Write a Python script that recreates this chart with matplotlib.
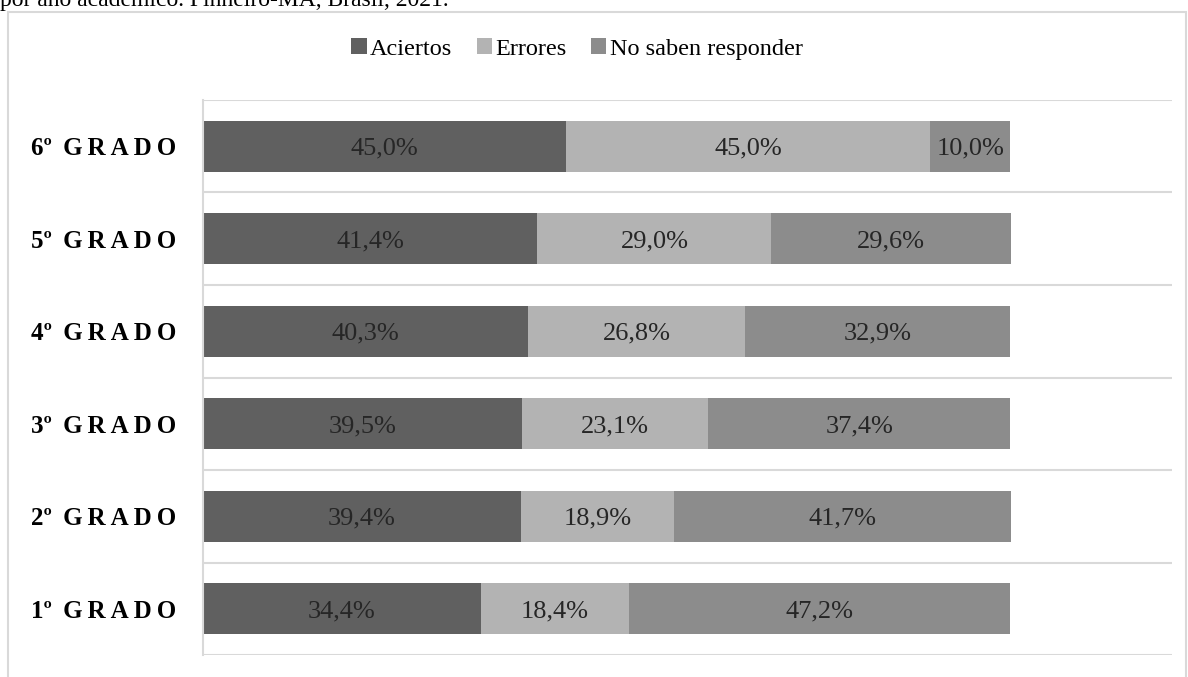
import matplotlib
matplotlib.use("Agg")
import matplotlib.pyplot as plt
from matplotlib.patches import Rectangle
import numpy as np

categories = ["1º GRADO", "2º GRADO", "3º GRADO", "4º GRADO", "5º GRADO", "6º GRADO"]
aciertos = [34.4, 39.4, 39.5, 40.3, 41.4, 45.0]
errores = [18.4, 18.9, 23.1, 26.8, 29.0, 45.0]
no_saben = [47.2, 41.7, 37.4, 32.9, 29.6, 10.0]
series_names = ["Aciertos", "Errores", "No saben responder"]
colors = ["#606060", "#b3b3b3", "#8c8c8c"]
caption = "por año académico. Pinheiro-MA, Brasil, 2021."

plt.rcParams['font.family'] = ['Liberation Serif', 'DejaVu Serif']

W, H = 1188, 677
fig = plt.figure(figsize=(W / 100, H / 100), dpi=100)

# outer chart frame
fig.patches.append(Rectangle((8 / W, -0.05), (1186 - 8) / W, 1 - 12 / H + 0.05,
                             transform=fig.transFigure, fill=False,
                             edgecolor="#d9d9d9", linewidth=1.5))
fig.text(0.0, 1 - 6 / H, caption, fontsize=17, va="baseline", ha="left", color="black")

ax = fig.add_axes([203 / W, 1 - 655 / H, (1172 - 203) / W, (655 - 100) / H])

y = np.arange(len(categories))
left = np.zeros(len(categories))
for vals, name, c in zip([aciertos, errores, no_saben], series_names, colors):
    ax.barh(y, vals, left=left, height=0.55, color=c, label=name)
    for yi, l, v in zip(y, left, vals):
        ax.text(l + v / 2, yi, f"{v:.1f}%".replace(".", ","), ha="center",
                va="center_baseline", fontsize=19, color="#262626")
    left = left + np.array(vals)

ax.set_xlim(0, 120)
ax.set_ylim(-0.5, len(categories) - 0.5)
ax.set_xticks([])
ax.set_yticks(y)
def spaced(s):
    num, word = s.split(" ")
    return num + "\u2009 " + "\u2009".join(word)
ax.set_yticklabels([spaced(c) for c in categories], fontsize=18, fontweight="bold")
ax.tick_params(axis="y", length=0, pad=19.5)
ax.set_yticks(np.arange(-0.5, len(categories)), minor=True)
ax.tick_params(axis="y", which="minor", length=0)
ax.grid(axis="y", which="minor", color="#d9d9d9", linewidth=1.5)
ax.set_axisbelow(True)
for s in ["top", "right", "bottom"]:
    ax.spines[s].set_visible(False)
ax.spines["left"].set_color("#d9d9d9")
ax.spines["left"].set_linewidth(1.5)

fig.legend(loc="center", bbox_to_anchor=(577 / W, 1 - 49 / H), ncol=3, frameon=False,
           fontsize=17.5, handlelength=0.62, handleheight=0.62, handletextpad=0.15,
           columnspacing=1.0)

fig.savefig("out.png", dpi=100)
